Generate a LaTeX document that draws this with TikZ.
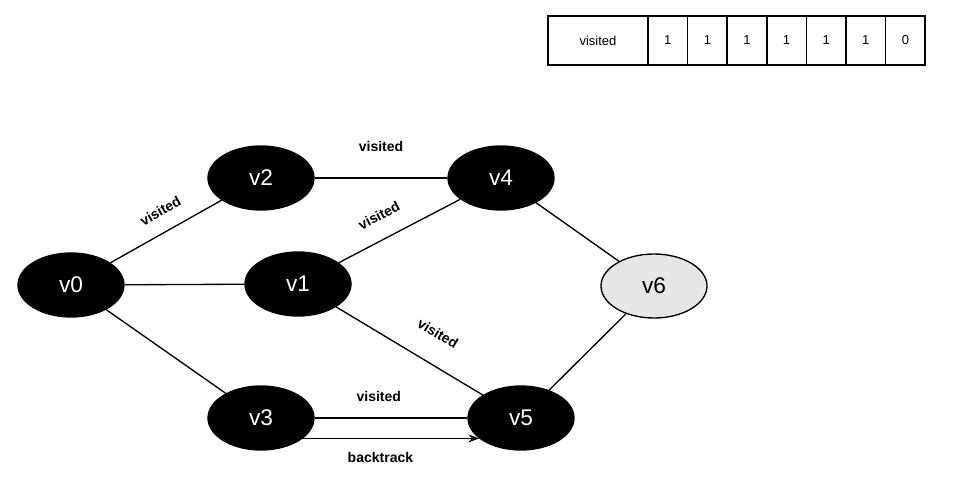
\documentclass[tikz,border=0pt]{standalone}
\usepackage{fontspec}
\setmainfont{Liberation Sans}
\usepackage{xcolor}
\definecolor{opengray}{RGB}{230,230,230}
\usetikzlibrary{shapes.geometric,arrows.meta,positioning}

\begin{document}
\begin{tikzpicture}[
    x=0.75pt, y=-0.75pt,
    vertex/.style={ellipse, draw, line width=1pt, fill=black, text=white, minimum width=79.5pt, minimum height=48pt, font=\fontsize{17}{20}\selectfont},
    openvertex/.style={vertex, fill=opengray, text=black},
    edge/.style={line width=1pt},
    lbl/.style={font=\fontsize{10.5}{12}\selectfont\bfseries, inner sep=1pt},
    cell/.style={rectangle, draw, line width=1.2pt, minimum height=36.75pt, minimum width=29.7pt, outer sep=0pt, font=\fontsize{9.75}{11}\selectfont},
    arrow/.style={-{Stealth[length=8pt,width=6pt]}, line width=1pt}
]
\useasboundingbox (0,0) rectangle (965,489);

% Visited Array
\node[cell, minimum width=75pt] (head) at (598,40.5) {visited};
\foreach \val [count=\i] in {1,1,1,1,1,1,0}
    \node[cell] (cell\i) at ({628.2+39.6*\i},40.5) {\val};

% Vertices
\node[vertex] (v0) at (71,285) {v0};
\node[vertex] (v2) at (261,178) {v2};
\node[vertex] (v1) at (298,284) {v1};
\node[vertex] (v4) at (501,178) {v4};
\node[vertex] (v3) at (261,418) {v3};
\node[vertex] (v5) at (521,418) {v5};
\node[openvertex] (v6) at (654,286) {v6};

% Edges
\draw[edge] (v0) -- node[lbl, sloped, above=10pt, pos=0.54] {visited} (v2);
\draw[edge] (v0) -- (v1);
\draw[edge] (v0) -- (v3);
\draw[edge] (v2) -- node[lbl, above=18pt] {visited} (v4);
\draw[edge] (v1) -- node[lbl, sloped, above=12pt, pos=0.42] {visited} (v4);
\draw[edge] (v1) -- node[lbl, sloped, above=17pt, pos=0.59] {visited} (v5);
\draw[edge] (v4) -- (v6);
\draw[edge] (v5) -- (v6);
\draw[edge] (v3) -- node[lbl, above=11pt, pos=0.42] {visited} (v5);
\draw[arrow] (v3.-26) -- node[lbl, below=9pt, pos=0.44] {backtrack} (v5.206);

\end{tikzpicture}
\end{document}
